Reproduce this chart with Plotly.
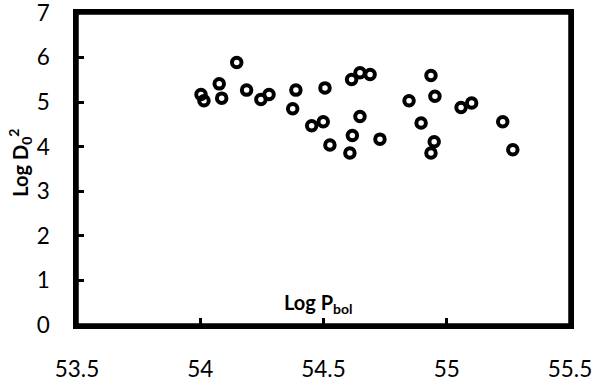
import plotly.graph_objects as go

log_pbol = [54.003, 54.015, 54.077, 54.087, 54.148, 54.188, 54.246, 54.279, 54.388, 54.375,
            54.452, 54.506, 54.499, 54.526, 54.614, 54.648, 54.689, 54.648, 54.617, 54.607,
            54.729, 54.847, 54.896, 54.936, 54.952, 54.949, 54.936, 55.058, 55.101, 55.227,
            55.268]
log_d0sq = [5.17, 5.03, 5.41, 5.09, 5.89, 5.27, 5.06, 5.17, 5.27, 4.85,
            4.47, 5.32, 4.56, 4.04, 5.51, 5.66, 5.62, 4.68, 4.25, 3.86,
            4.17, 5.03, 4.53, 5.60, 5.13, 4.11, 3.86, 4.88, 4.98, 4.56,
            3.93]

x_ticks = [53.5, 54, 54.5, 55, 55.5]
x_ticktext = ["53.5", "54", "54.5", "55", "55.5"]
y_ticks = [0, 1, 2, 3, 4, 5, 6, 7]

FONT = "Lato"

fig = go.Figure()
fig.add_trace(go.Scatter(
    x=log_pbol, y=log_d0sq, mode="markers",
    marker=dict(symbol="circle-open", size=9.5, color="black", line=dict(width=4, color="black")),
    showlegend=False, cliponaxis=False,
))

fig.update_layout(
    width=595, height=384,
    margin=dict(l=77, r=25, t=13, b=59),
    paper_bgcolor="white", plot_bgcolor="white",
    font=dict(family=FONT, color="black", size=22),
    xaxis=dict(range=[53.5, 55.5], tickvals=x_ticks, ticktext=x_ticktext,
               ticks="inside", ticklen=7, tickwidth=3, tickcolor="black",
               showline=True, linewidth=3.5, linecolor="black", mirror=True,
               showgrid=False, zeroline=False, ticklabelstandoff=21, automargin=False,
               ticklabeloverflow="allow",
               tickfont=dict(size=22.5, family=FONT)),
    yaxis=dict(range=[0, 7], tickvals=y_ticks,
               ticks="inside", ticklen=7, tickwidth=3, tickcolor="black",
               showline=True, linewidth=3.5, linecolor="black", mirror=True,
               showgrid=False, zeroline=False, ticklabelstandoff=19, automargin=False,
               ticklabeloverflow="allow",
               tickfont=dict(size=22.5, family=FONT)),
    shapes=[
        dict(type="rect", xref="paper", yref="paper", x0=0, x1=1, y0=0, y1=1,
             line=dict(color="black", width=3.5), fillcolor="rgba(0,0,0,0)", layer="above"),
    ],
    annotations=[
        dict(text="<b>Log P<sub>bol</sub></b>", xref="paper", yref="paper",
             x=0.489, y=0.02, xanchor="center", yanchor="bottom", showarrow=False,
             font=dict(size=20, family=FONT)),
        dict(text="<b>Log D<sub>0</sub><sup>2</sup></b>", xref="paper", yref="paper",
             x=0, xshift=-57, y=0.52, xanchor="center", yanchor="middle", showarrow=False,
             textangle=-90, font=dict(size=20, family=FONT)),
    ],
)

fig.write_html(
    "out.html",
    config={"displayModeBar": False},
    post_script="document.body.style.margin='0';document.body.style.overflow='hidden';",
)
